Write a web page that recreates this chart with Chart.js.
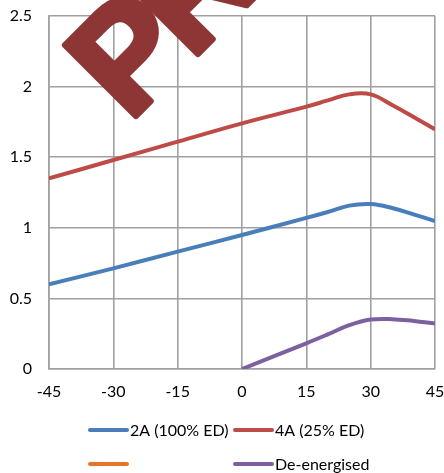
<!DOCTYPE html>
<html>
<head>
<meta charset="utf-8">
<script src="https://cdn.jsdelivr.net/npm/chart.js@4"></script>
<style>
  html, body { margin: 0; padding: 0; background: #fff; }
  #wrap { width: 444px; height: 473px; position: relative; }
</style>
</head>
<body>
<div id="wrap"><canvas id="c" width="444" height="473"></canvas></div>
<script>
// Ambient temperature (°C) at each sample
const temps = [-45, -30, -15, 0, 15, 20, 25, 30, 35, 40, 45];

// Series values, one per temperature (null = not measured)
const series2A  = [0.60, 0.713, 0.831, 0.949, 1.07, 1.112, 1.157, 1.168, 1.14, 1.095, 1.048];
const series4A  = [1.35, 1.48, 1.61, 1.74, 1.858, 1.902, 1.945, 1.945, 1.87, 1.785, 1.697];
const seriesOrange = [];
const seriesDeEnergised = [null, null, null, 0, 0.182, 0.245, 0.31, 0.35, 0.353, 0.34, 0.323];

const seriesLabels = ['2A (100% ED)', '4A (25% ED)', '', 'De-energised'];
const seriesColors = ['#4a7ebb', '#be4b48', '#e5752d', '#7d60a0'];

const xTicks = [-45, -30, -15, 0, 15, 30, 45];
const yTicks = [0, 0.5, 1, 1.5, 2, 2.5];

const stampText = 'PRELIMINARY';

function toPoints(vals) {
  const pts = [];
  vals.forEach((v, i) => { if (v !== null && v !== undefined) pts.push({ x: temps[i], y: v }); });
  return pts;
}

const allSeries = [series2A, series4A, seriesOrange, seriesDeEnergised];

const FONT = 'Lato';

// Two-column legend drawn under the plot
const gridLegend = {
  id: 'gridLegend',
  afterDraw(chart) {
    const ctx = chart.ctx;
    const cols = [90, 235];
    const rows = [430, 464];
    ctx.save();
    ctx.font = '16px ' + FONT;
    ctx.textBaseline = 'middle';
    ctx.fillStyle = '#000';
    chart.data.datasets.forEach((ds, i) => {
      const x = cols[i % 2];
      const y = rows[Math.floor(i / 2)];
      ctx.strokeStyle = ds.borderColor;
      ctx.lineWidth = 4;
      ctx.lineCap = 'round';
      ctx.beginPath();
      ctx.moveTo(x, y);
      ctx.lineTo(x + 37, y);
      ctx.stroke();
      if (ds.label) ctx.fillText(ds.label, x + 40, y + 1);
    });
    ctx.restore();
  }
};

// Rotated stamp across the top of the plot
const stamp = {
  id: 'stamp',
  afterDraw(chart) {
    const ctx = chart.ctx;
    ctx.save();
    ctx.translate(129, 123);
    ctx.rotate(-Math.PI / 4);
    ctx.font = 'bold 146px "Liberation Sans"';
    ctx.fillStyle = '#8e3636';
    ctx.strokeStyle = '#8e3636';
    ctx.lineJoin = 'round';
    ctx.lineWidth = 6;
    ctx.textBaseline = 'alphabetic';
    let x = 0;
    for (const ch of stampText) {
      ctx.fillText(ch, x, 0);
      ctx.strokeText(ch, x, 0);
      x += ctx.measureText(ch).width * 0.9;
    }
    ctx.restore();
  }
};

new Chart(document.getElementById('c'), {
  type: 'line',
  data: {
    datasets: allSeries.map((vals, i) => ({
      label: seriesLabels[i],
      data: toPoints(vals),
      borderColor: seriesColors[i],
      backgroundColor: seriesColors[i],
      borderWidth: 4,
      pointRadius: 0,
      tension: 0.4,
      fill: false
    }))
  },
  options: {
    responsive: false,
    animation: false,
    events: [],
    layout: { padding: { top: 16, right: 9, left: 0, bottom: 72 } },
    plugins: { legend: { display: false }, tooltip: { enabled: false } },
    scales: {
      x: {
        type: 'linear',
        min: -45, max: 45,
        afterBuildTicks(scale) { scale.ticks = xTicks.map(v => ({ value: v })); },
        afterFit(scale) { scale.height = 32; scale.paddingLeft = 0; scale.paddingRight = 0; },
        grid: { color: '#a0a0a0', lineWidth: 1.6, drawTicks: false },
        border: { color: '#a0a0a0', width: 1.6 },
        ticks: { padding: 13, color: '#000', font: { family: FONT, size: 16 }, maxRotation: 0 }
      },
      y: {
        min: 0, max: 2.5,
        afterBuildTicks(scale) { scale.ticks = yTicks.map(v => ({ value: v })); },
        afterFit(scale) { scale.width = 49; scale.paddingTop = 0; scale.paddingBottom = 0; },
        grid: { color: '#a0a0a0', lineWidth: 1.6, drawTicks: false },
        border: { color: '#a0a0a0', width: 1.6 },
        ticks: { padding: 17, color: '#000', font: { family: FONT, size: 16 },
                 callback: v => String(v) }
      }
    }
  },
  plugins: [gridLegend, stamp]
});
</script>
</body>
</html>
